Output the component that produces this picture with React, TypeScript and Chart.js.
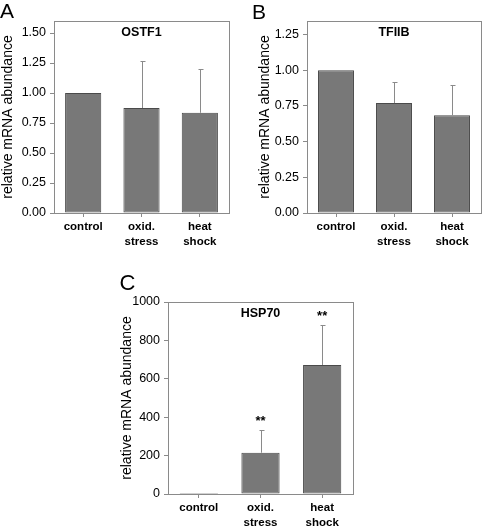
import React, { useEffect, useRef } from "react";
import { Chart, registerables } from "chart.js";

Chart.register(...registerables);

// ---- data ----
const categories: string[][] = [["control"], ["oxid.", "stress"], ["heat", "shock"]];

const ostf1Values = [1.0, 0.875, 0.835];
const ostf1Errors = [0, 0.395, 0.365];
const ostf1Ticks = [0, 0.25, 0.5, 0.75, 1.0, 1.25, 1.5];

const tfiibValues = [1.0, 0.77, 0.685];
const tfiibErrors = [0, 0.145, 0.215];
const tfiibTicks = [0, 0.25, 0.5, 0.75, 1.0, 1.25];

const hsp70Values = [5, 215, 672];
const hsp70Errors = [0, 118, 210];
const hsp70Ticks = [0, 200, 400, 600, 800, 1000];
const hsp70Marks = ["", "**", "**"];

const FONT = "'Liberation Sans', Arial, sans-serif";

const panelPlugin = {
  id: "panelExtras",
  afterDatasetsDraw(chart: any, _args: any, opts: any) {
    const { ctx, chartArea: a } = chart;
    const x = chart.scales.x;
    const y = chart.scales.y;
    ctx.save();
    // error bars
    ctx.strokeStyle = "#8a8a8a";
    ctx.lineWidth = 1;
    (opts.errors || []).forEach((e: number, i: number) => {
      if (!e) return;
      const cx = Math.round(x.getPixelForValue(i)) + 0.5;
      const y0 = y.getPixelForValue(opts.values[i]);
      const y1 = Math.round(y.getPixelForValue(opts.values[i] + e)) + 0.5;
      ctx.beginPath();
      ctx.moveTo(cx, y0);
      ctx.lineTo(cx, y1);
      ctx.moveTo(cx - 2, y1);
      ctx.lineTo(cx + 3, y1);
      ctx.stroke();
    });
    // frame
    ctx.strokeStyle = "#8a8a8a";
    ctx.lineWidth = 1;
    ctx.strokeRect(
      Math.round(a.left) + 0.5,
      Math.round(a.top) + 0.5,
      Math.round(a.right) - Math.round(a.left),
      Math.round(a.bottom) - Math.round(a.top)
    );
    // significance marks
    ctx.fillStyle = "#000";
    ctx.font = `bold 13px ${FONT}`;
    ctx.textAlign = "center";
    ctx.textBaseline = "alphabetic";
    (opts.marks || []).forEach((m: string, i: number) => {
      if (!m) return;
      const cx = x.getPixelForValue(i);
      const top = y.getPixelForValue(opts.values[i] + (opts.errors[i] || 0));
      ctx.fillText(m, cx, top - 5);
    });
    // inner title
    ctx.font = `bold 12.5px ${FONT}`;
    ctx.textBaseline = "middle";
    ctx.fillText(opts.title, (a.left + a.right) / 2, a.top + 12);
    ctx.restore();
  },
};

type PanelProps = {
  left: number;
  top: number;
  width: number;
  height: number;
  padLeft: number;
  padRight: number;
  padTop: number;
  yWidth: number;
  xHeight: number;
  values: number[];
  errors: number[];
  marks?: string[];
  ticks: number[];
  yMax: number;
  decimals: number;
  title: string;
};

function Panel(p: PanelProps) {
  const ref = useRef<HTMLCanvasElement | null>(null);
  useEffect(() => {
    if (!ref.current) return;
    const chart = new Chart(ref.current, {
      type: "bar",
      data: {
        labels: categories as any,
        datasets: [
          {
            data: p.values,
            backgroundColor: "#787878",
            borderColor: "#4a4a4a",
            borderWidth: 1,
            borderSkipped: false,
            barPercentage: 0.62,
            categoryPercentage: 1,
          },
        ],
      },
      options: {
        responsive: false,
        animation: false,
        devicePixelRatio: 1,
        layout: { padding: { left: p.padLeft, right: p.padRight, top: p.padTop, bottom: 0 } },
        plugins: {
          legend: { display: false },
          tooltip: { enabled: false },
          panelExtras: { values: p.values, errors: p.errors, marks: p.marks || [], title: p.title },
        } as any,
        scales: {
          x: {
            offset: true,
            grid: { display: true, offset: false, drawOnChartArea: false, drawTicks: true, tickLength: 4, color: "#8a8a8a" },
            border: { display: false },
            ticks: {
              color: "#000",
              padding: 3,
              maxRotation: 0,
              autoSkip: false,
              font: { family: FONT, size: 11.5, weight: "bold", lineHeight: 1.25 },
            },
            afterFit: (s: any) => {
              s.height = p.xHeight;
            },
          },
          y: {
            min: 0,
            max: p.yMax,
            grid: { display: true, drawOnChartArea: false, drawTicks: true, tickLength: 4, color: "#8a8a8a" },
            border: { display: false },
            afterBuildTicks: (s: any) => {
              s.ticks = p.ticks.map((v) => ({ value: v }));
            },
            ticks: {
              color: "#000",
              padding: 4,
              font: { family: FONT, size: 12.5 },
              callback: (v: any) => Number(v).toFixed(p.decimals),
            },
            title: {
              display: true,
              text: "relative mRNA abundance",
              color: "#000",
              padding: 0,
              font: { family: FONT, size: 14 },
            },
            afterFit: (s: any) => {
              s.width = p.yWidth;
            },
          },
        },
      } as any,
      plugins: [panelPlugin as any],
    });
    return () => chart.destroy();
  }, []);
  return (
    <canvas
      ref={ref}
      width={p.width}
      height={p.height}
      style={{ position: "absolute", left: p.left, top: p.top, width: p.width, height: p.height }}
    />
  );
}

const letterStyle = (left: number, top: number, size: number): React.CSSProperties => ({
  position: "absolute",
  left,
  top,
  fontFamily: FONT,
  fontSize: size,
  lineHeight: `${size}px`,
  color: "#000",
});

export default function App() {
  return (
    <div style={{ position: "absolute", left: 0, top: 0, width: 483, height: 530, background: "#fff", overflow: "hidden" }}>
      <Panel
        left={0} top={0} width={240} height={250}
        padLeft={0} padRight={11} padTop={21} yWidth={54} xHeight={37}
        values={ostf1Values} errors={ostf1Errors} ticks={ostf1Ticks} yMax={1.6} decimals={2} title="OSTF1"
      />
      <Panel
        left={240} top={0} width={243} height={250}
        padLeft={17} padRight={2} padTop={21} yWidth={50} xHeight={37}
        values={tfiibValues} errors={tfiibErrors} ticks={tfiibTicks} yMax={1.345} decimals={2} title="TFIIB"
      />
      <Panel
        left={100} top={270} width={260} height={260}
        padLeft={18.6} padRight={7} padTop={32} yWidth={49.4} xHeight={36}
        values={hsp70Values} errors={hsp70Errors} marks={hsp70Marks} ticks={hsp70Ticks} yMax={1000} decimals={0} title="HSP70"
      />
      <div style={letterStyle(0, 0, 21)}>A</div>
      <div style={letterStyle(252, 1, 21)}>B</div>
      <div style={letterStyle(119.5, 272, 22)}>C</div>
    </div>
  );
}
